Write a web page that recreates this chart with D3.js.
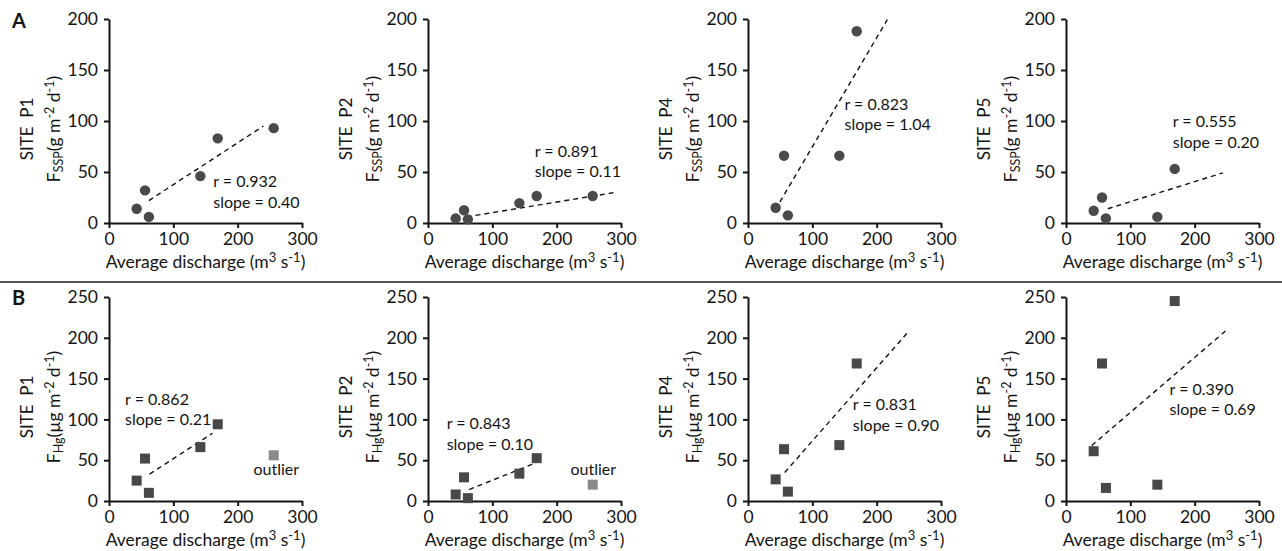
<!DOCTYPE html>
<html><head><meta charset="utf-8">
<script src="https://cdn.jsdelivr.net/npm/d3@7/dist/d3.min.js"></script>
<style>
html,body{margin:0;padding:0;background:#fff;}
svg text{font-family:Lato,"Open Sans",sans-serif;fill:#141414;}
</style></head><body>
<svg id="chart" width="1282" height="551"></svg>
<script>
// ---- data ----
const discharge = [43, 56, 62, 142, 169, 256];
const sites = ["P1", "P2", "P4", "P5"];
const xTicks = [0, 100, 200, 300];
const yTicksA = [0, 50, 100, 150, 200];
const yTicksB = [0, 50, 100, 150, 200, 250];

const fsspP1 = [14, 32, 6, 46, 83, 93];
const fsspP2 = [4.5, 12.5, 3.6, 19.5, 26.5, 26.5];
const fsspP4 = [15, 66, 7.5, 66, 188, null];
const fsspP5 = [12, 25, 4.5, 6, 53, null];

const fhgP1 = [25, 52, 10, 66, 94, 56];
const fhgP2 = [8, 29, 3.5, 33.5, 52.5, 20];
const fhgP4 = [26.5, 63.5, 11.5, 68.5, 168.5, null];
const fhgP5 = [61, 168.5, 16, 20, 245, null];
const outlierB = [false, false, false, false, false, true];

const rValuesA = ["0.932", "0.891", "0.823", "0.555"];
const slopesA = ["0.40", "0.11", "1.04", "0.20"];
const rValuesB = ["0.862", "0.843", "0.831", "0.390"];
const slopesB = ["0.21", "0.10", "0.90", "0.69"];

// regression line end points [x1, y1, x2, y2] in data units
const fitA = [[62, 22, 240, 95], [60, 6, 291, 30], [49.6, 20.7, 216.5, 199.3], [65, 14, 244, 49.2]];
const fitB = [[63, 33, 161, 83], [64, 14, 165, 46], [57, 35, 250, 208], [40, 68, 249, 209]];

// annotation anchor (data units): x of text start, y of first baseline
const annotA = [[162, 35], [166, 65], [150, 111], [166, 94]];
const annotB = [[25, 118], [29, 88], [163, 111.5], [161, 130]];
const outlierLabel = [[260, 32], [257, 32], null, null];

// ---- layout ----
const svg = d3.select("#chart");
const panelLeft = [109, 428, 748, 1066];
const panelW = 193;
const rowA = {top: 19, bottom: 223};
const rowB = {top: 297, bottom: 501};
const ff = "Lato, 'Open Sans', sans-serif";

function drawPanel(opts) {
  const {left, row, yMax, yTicks, values, fit, annot, rVal, slope, site, shape, outl, outLbl, quantity, unitPre} = opts;
  const x = d3.scaleLinear().domain([0, 300]).range([left, left + panelW]);
  const y = d3.scaleLinear().domain([0, yMax]).range([row.bottom, row.top]);
  const g = svg.append("g");

  const xa = g.append("g").attr("transform", `translate(0,${row.bottom})`)
    .call(d3.axisBottom(x).tickValues(xTicks).tickSize(5).tickPadding(5).tickSizeOuter(0));
  const ya = g.append("g").attr("transform", `translate(${left},0)`)
    .call(d3.axisLeft(y).tickValues(yTicks).tickSize(5).tickPadding(6).tickSizeOuter(0));
  [xa, ya].forEach(a => {
    a.select(".domain").attr("stroke", "#141414").attr("stroke-width", 2);
    a.selectAll(".tick line").attr("stroke", "#141414").attr("stroke-width", 2);
    a.selectAll(".tick text").attr("font-size", 17.5).attr("font-family", ff).attr("fill", "#141414");
  });

  // regression line
  g.append("line")
    .attr("x1", x(fit[0])).attr("y1", y(fit[1]))
    .attr("x2", x(fit[2])).attr("y2", y(fit[3]))
    .attr("stroke", "#111").attr("stroke-width", 1.4).attr("stroke-dasharray", "5,4");

  const pts = discharge.map((d, i) => ({x: d, y: values[i], o: outl ? outl[i] : false})).filter(d => d.y != null);
  if (shape === "circle") {
    g.selectAll("circle.pt").data(pts).enter().append("circle")
      .attr("cx", d => x(d.x)).attr("cy", d => y(d.y)).attr("r", 5.2)
      .attr("fill", "#4a4a4a");
  } else {
    const s = 10;
    g.selectAll("rect.pt").data(pts).enter().append("rect")
      .attr("x", d => x(d.x) - s / 2).attr("y", d => y(d.y) - s / 2)
      .attr("width", s).attr("height", s)
      .attr("fill", d => d.o ? "#8a8a8a" : "#484848");
  }

  // annotations
  const ax = x(annot[0]), ay = y(annot[1]);
  g.append("text").attr("x", ax).attr("y", ay).attr("font-size", 16).text("r = " + rVal);
  g.append("text").attr("x", ax).attr("y", ay + 20.5).attr("font-size", 16).text("slope = " + slope);
  if (outLbl) {
    g.append("text").attr("x", x(outLbl[0])).attr("y", y(outLbl[1])).attr("text-anchor", "middle")
      .attr("font-size", 16).text("outlier");
  }

  // x title
  const xt = g.append("text").attr("x", left + panelW / 2).attr("y", row.bottom + 45)
    .attr("text-anchor", "middle").attr("font-size", 17.5);
  xt.append("tspan").text("Average discharge (m");
  xt.append("tspan").attr("dy", -6).attr("font-size", 13).text("3");
  xt.append("tspan").attr("dy", 6).text("\u00a0s");
  xt.append("tspan").attr("dy", -6).attr("font-size", 13).text("-1");
  xt.append("tspan").attr("dy", 6).text(")");

  // y titles
  const cy = (row.top + row.bottom) / 2 + 8;
  g.append("text").attr("transform", `translate(${left - 76},${cy}) rotate(-90)`)
    .attr("text-anchor", "middle").attr("font-size", 17).text("SITE\u00a0\u00a0" + site);
  const yt = g.append("text").attr("transform", `translate(${left - 49},${cy}) rotate(-90)`)
    .attr("text-anchor", "middle").attr("font-size", 17.5);
  yt.append("tspan").text("F");
  yt.append("tspan").attr("dy", 3).attr("font-size", 12.5).text(quantity);
  yt.append("tspan").attr("dy", -3).text("(" + unitPre + "\u00a0m");
  yt.append("tspan").attr("dy", -6).attr("font-size", 12.5).text("-2");
  yt.append("tspan").attr("dy", 6).text("\u00a0d");
  yt.append("tspan").attr("dy", -6).attr("font-size", 12.5).text("-1");
  yt.append("tspan").attr("dy", 6).text(")");
}

const seriesA = [fsspP1, fsspP2, fsspP4, fsspP5];
const seriesB = [fhgP1, fhgP2, fhgP4, fhgP5];

sites.forEach((s, i) => {
  drawPanel({left: panelLeft[i], row: rowA, yMax: 200, yTicks: yTicksA, values: seriesA[i],
    fit: fitA[i], annot: annotA[i], rVal: rValuesA[i], slope: slopesA[i], site: s,
    shape: "circle", outl: null, outLbl: null, quantity: "SSP", unitPre: "g"});
  drawPanel({left: panelLeft[i], row: rowB, yMax: 250, yTicks: yTicksB, values: seriesB[i],
    fit: fitB[i], annot: annotB[i], rVal: rValuesB[i], slope: slopesB[i], site: s,
    shape: "square", outl: outlierB, outLbl: outlierLabel[i], quantity: "Hg", unitPre: "\u00b5g"});
});

// separator and panel letters
svg.append("line").attr("x1", 0).attr("x2", 1282).attr("y1", 282).attr("y2", 282)
  .attr("stroke", "#555").attr("stroke-width", 2);
svg.append("text").attr("x", 12).attr("y", 28).attr("font-size", 20).attr("font-weight", "bold").text("A");
svg.append("text").attr("x", 12).attr("y", 305).attr("font-size", 20).attr("font-weight", "bold").text("B");
</script>
</body></html>
